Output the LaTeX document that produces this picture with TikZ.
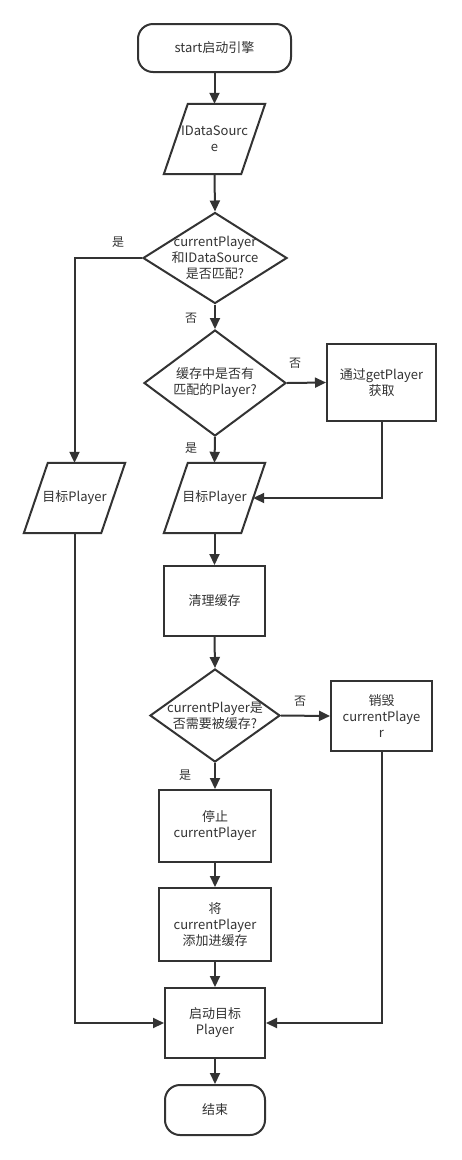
\documentclass[tikz,border=0pt]{standalone}
\usepackage{fontspec}
\setmainfont{Noto Sans CJK SC}
\usetikzlibrary{shapes.geometric,arrows.meta}
\definecolor{ink}{HTML}{333333}
\tikzset{
  txt/.style={font=\fontsize{13}{16}\selectfont, text=ink, align=center},
  lbl/.style={font=\fontsize{12}{14}\selectfont, text=ink, inner sep=0pt},
  terminal/.style={txt, draw=ink, line width=2pt, rectangle, rounded corners=15pt, inner sep=0pt},
  procbox/.style={txt, draw=ink, line width=2pt, rectangle, inner sep=0pt},
  iobox/.style={txt, rectangle, minimum width=77pt, minimum height=70pt, inner sep=0pt},
  decision/.style={draw=ink, line width=2pt, diamond, inner sep=0pt},
  dtext/.style={label={[txt]center:#1}},
  outline/.style={draw=ink, line width=2pt, line join=miter},
  flow/.style={draw=ink, line width=2pt, -{Triangle[length=11pt,width=10pt]}}
}
\newcommand{\slantbox}[1]{%
  \draw[outline] ([xshift=12pt]#1.north west) -- ([xshift=12pt]#1.north east)
    -- ([xshift=-12pt]#1.south east) -- ([xshift=-12pt]#1.south west) -- cycle;}
\begin{document}
\begin{tikzpicture}[x=1pt,y=-1pt]
\useasboundingbox[fill=white] (0,0) rectangle (461,1160);

\node[terminal, minimum width=153pt, minimum height=48pt] (start) at (214.5,48) {start启动引擎};
\node[iobox] (ds) at (214.5,139) {IDataSourc\\e};
\node[decision, minimum width=144pt, minimum height=91pt,
  dtext={currentPlayer\\和IDataSource\\是否匹配?}] (d1) at (215,258) {};
\node[decision, minimum width=142pt, minimum height=106pt,
  dtext={缓存中是否有\\匹配的Player?}] (d2) at (215,383) {};
\node[procbox, minimum width=109pt, minimum height=77pt] (get) at (381.5,382.5) {通过getPlayer\\获取};
\node[iobox] (tp1) at (74.5,498) {目标Player};
\node[iobox] (tp2) at (214.5,498) {目标Player};
\node[procbox, minimum width=101pt, minimum height=70pt] (clear) at (214.5,601) {清理缓存};
\node[decision, minimum width=130pt, minimum height=93pt,
  dtext={currentPlayer是\\否需要被缓存?}] (d3) at (215,715.5) {};
\node[procbox, minimum width=101pt, minimum height=70pt] (destroy) at (381.5,716) {销毁\\currentPlaye\\r};
\node[procbox, minimum width=112pt, minimum height=72pt] (stop) at (215,826) {停止\\currentPlayer};
\node[procbox, minimum width=112pt, minimum height=73pt] (add) at (215,924.5) {将\\currentPlayer\\添加进缓存};
\node[procbox, minimum width=100pt, minimum height=70pt] (launch) at (215,1023) {启动目标\\Player};
\node[terminal, minimum width=100pt, minimum height=50pt] (end) at (215,1110) {结束};

\slantbox{ds}
\slantbox{tp1}
\slantbox{tp2}

\node[lbl] (y1) at (118,242) {是};
\node[lbl] (n1) at (191,318) {否};
\node[lbl] (n2) at (295,363) {否};
\node[lbl] (y2) at (191,448) {是};
\node[lbl] (n3) at (300,701) {否};
\node[lbl] (y3) at (185,775) {是};

\draw[flow] (start.south) -- (ds.north);
\draw[flow] (ds.south) -- (d1.north);
\draw[flow] (d1.west) -| (tp1.north);
\draw[flow] (d1.south) -- (d2.north);
\draw[flow] (d2.east) -- (get.west);
\draw[flow] (d2.south) -- (tp2.north);
\draw[flow] (get.south) |- (tp2.east);
\draw[flow] (tp2.south) -- (clear.north);
\draw[flow] (clear.south) -- (d3.north);
\draw[flow] (d3.east) -- (destroy.west);
\draw[flow] (d3.south) -- (stop.north);
\draw[flow] (stop.south) -- (add.north);
\draw[flow] (add.south) -- (launch.north);
\draw[flow] (tp1.south) |- (launch.west);
\draw[flow] (destroy.south) |- (launch.east);
\draw[flow] (launch.south) -- (end.north);
\end{tikzpicture}
\end{document}
